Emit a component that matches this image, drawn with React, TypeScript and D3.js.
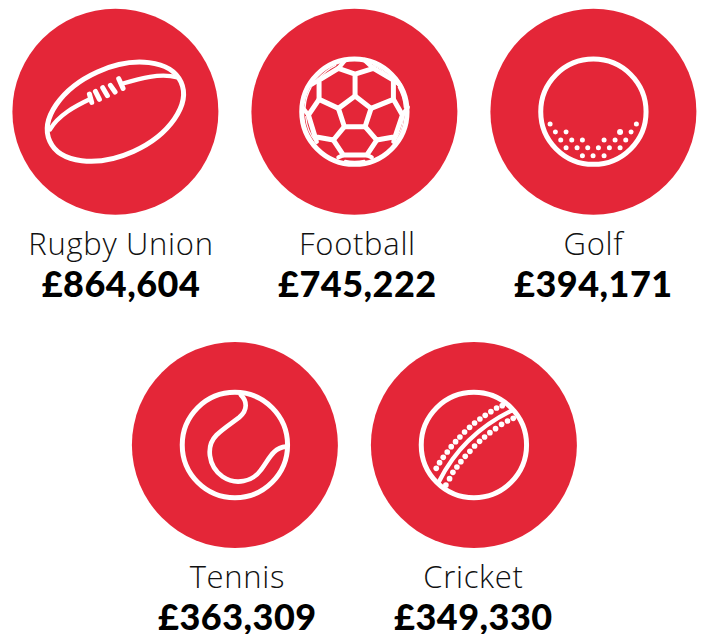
import React from "react";
import * as d3 from "d3";

const sports = ["Rugby Union", "Football", "Golf", "Tennis", "Cricket"];
const amounts = [864604, 745222, 394171, 363309, 349330];
const columns = [0, 1, 2, 0.5, 1.5];
const rows = [0, 0, 0, 1, 1];
const textShift = [5.6, 3, 0, 2.5, -0.5];

const RED = "#e42638";
const W = "#ffffff";
const fmt = d3.format(",");

const x = d3.scaleLinear().domain([0, 2]).range([115.4, 593.4]);
const y = d3.scaleLinear().domain([0, 1]).range([111.7, 445]);

const golfDots = [[195,372],[211,396],[243,396],[227,420],[260,420],[292,420],[243,443],[276,443],[308,443],[340,443],[373,443],[405,443],[292,467],[324,467],[357,467],[357,420],[390,420],[422,420],[405,396],[438,396],[454,372]];
const cricketUpper = [[214,400],[224,383],[235,367],[247,351],[259,335],[272,320],[285,306],[299,291],[314,277],[329,264],[345,252],[361,241],[378,230],[395,219],[412,212]];
const cricketLower = [[243,450],[254,431],[264,412],[276,396],[288,380],[301,364],[315,349],[329,333],[344,319],[359,306],[375,293],[392,281],[410,268],[428,258],[445,250]];

const stroke = { fill: "none", stroke: W, strokeLinecap: "round" as const, strokeLinejoin: "round" as const };

function Rugby() {
  return (
    <g transform="scale(0.3333) translate(-346,-335)">
      <ellipse cx={346} cy={335} rx={216} ry={131} transform="rotate(-24.3 346 335)" {...stroke} strokeWidth={15} />
      <path d="M150 388 C175 345 225 318 272 296" {...stroke} strokeWidth={13} />
      <path d="M366 251 C420 235 480 218 532 232" {...stroke} strokeWidth={13} />
      {[[268,282,275,307],[286,274,298,298],[308,263,322,287],[331,256,345,276],[356,236,369,265]].map((s, i) => (
        <line key={i} x1={s[0]} y1={s[1]} x2={s[2]} y2={s[3]} {...stroke} strokeWidth={15} />
      ))}
    </g>
  );
}

function Football() {
  return (
    <g transform="scale(0.3333) translate(-328,-335)">
      <circle cx={328} cy={335} r={158} {...stroke} strokeWidth={15} />
      <path d="M330 288 L378 325 L360 380 L298 380 L280 325 Z" {...stroke} strokeWidth={15} />
      <path d="M330 288 L330 222 M280 205 L330 222 L385 205 M280 205 L222 240 L222 298 L280 325 M385 205 L445 240 L445 298 L378 325" {...stroke} strokeWidth={15} />
      <path d="M222 298 L190 345 L210 410 L265 420 L298 380 M445 298 L472 345 L450 410 L395 420 L360 380" {...stroke} strokeWidth={15} />
      <path d="M265 420 L295 465 L365 465 L395 420" {...stroke} strokeWidth={15} />
      <path d="M280 205 L300 180 M385 205 L358 180 M222 240 L198 255 M445 240 L465 255 M190 345 L172 322 M472 345 L488 322 M210 410 L215 425 M450 410 L445 425" {...stroke} strokeWidth={13} />
      <path d="M295 465 L280 472 M365 465 L380 472" {...stroke} strokeWidth={13} />
      <path d="M386 196 Q420 212 442 240 M272 196 Q240 212 216 240 M198 262 Q182 290 180 322 M460 262 Q476 290 478 322 M182 350 Q186 395 212 425 M476 350 Q472 395 446 425" {...stroke} strokeWidth={4} />
      <path d="M300 482 Q328 488 358 482" {...stroke} strokeWidth={6} />
    </g>
  );
}

function Golf() {
  return (
    <g transform="scale(0.3333) translate(-325,-335)">
      <circle cx={325} cy={335} r={158} {...stroke} strokeWidth={15} />
      {golfDots.map((d, i) => (
        <circle key={i} cx={d[0]} cy={d[1]} r={i === 18 ? 9 : 7.5} fill={W} />
      ))}
    </g>
  );
}

function Tennis() {
  return (
    <g transform="scale(0.3333) translate(-332,-330)">
      <circle cx={332} cy={330} r={158} {...stroke} strokeWidth={15} />
      <path d="M350 180 C368 197 372 225 345 247 C320 266 295 282 277 300 C245 332 250 392 295 425 C335 452 385 440 410 405 C432 378 445 338 485 335" {...stroke} strokeWidth={14} />
    </g>
  );
}

function Cricket() {
  return (
    <g transform="scale(0.3333) translate(-327,-330)">
      <circle cx={327} cy={330} r={158} {...stroke} strokeWidth={15} />
      <path d="M222 440 C270 345 340 275 442 226" {...stroke} strokeWidth={13} />
      {cricketUpper.concat(cricketLower).map((d, i) => (
        <circle key={i} cx={d[0]} cy={d[1]} r={8.5} fill={W} />
      ))}
    </g>
  );
}

const icons = [Rugby, Football, Golf, Tennis, Cricket];

export default function App() {
  return (
    <svg
      width={704}
      height={634}
      viewBox="0 0 704 634"
      style={{ position: "absolute", left: 0, top: 0, background: "#fff" }}
    >
      {sports.map((name, i) => {
        const cx = x(columns[i]);
        const cy = y(rows[i]);
        const Icon = icons[i];
        return (
          <g key={name} transform={`translate(${cx},${cy})`}>
            <circle r={103} fill={RED} />
            <Icon />
            <text x={textShift[i]} y={143} textAnchor="middle" fontFamily="'Open Sans'" fontWeight={300} fontSize={31} letterSpacing={0.7} fill="#111">
              {name}
            </text>
            <text x={textShift[i]} y={185} textAnchor="middle" fontFamily="Lato" fontWeight={900} fontSize={36} letterSpacing={0.5} fill="#000">
              {"£" + fmt(amounts[i])}
            </text>
          </g>
        );
      })}
    </svg>
  );
}
